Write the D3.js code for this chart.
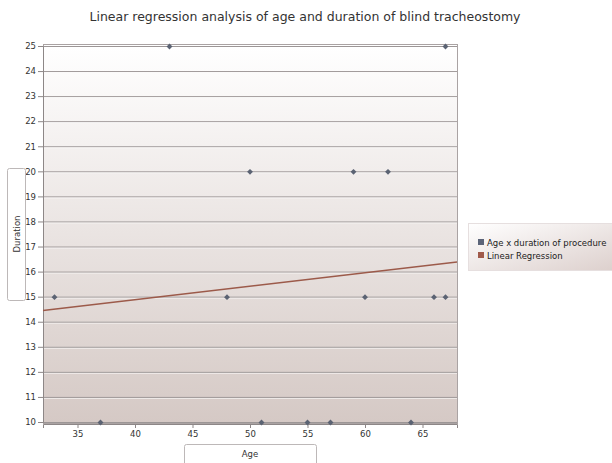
<!DOCTYPE html>
<html><head><meta charset="utf-8">
<script src="https://cdn.jsdelivr.net/npm/d3@7"></script>
<style>body{margin:0;background:#fff}svg{display:block}text{font-family:"DejaVu Sans",Verdana,sans-serif}</style>
</head><body>
<svg id="c" width="612" height="463"></svg>
<script>
const ages = [33,37,43,48,50,51,55,57,59,60,62,64,66,67,67];
const durations = [15,10,25,15,20,10,10,10,20,15,20,10,15,15,25];
const regAges = [32,68];
const regDur = [14.45,16.38];
const xTicks = [35,40,45,50,55,60,65];
const yTicks = [10,11,12,13,14,15,16,17,18,19,20,21,22,23,24,25];
const legendLabels = ["Age x duration of procedure","Linear Regression"];
const title = "Linear regression analysis of age and duration of blind tracheostomy";

const svg = d3.select("#c");
const L=43,R=457,T=46,B=422;
const x = d3.scaleLinear().domain([32,68]).range([L,R]);
const y = d3.scaleLinear().domain([10,25]).range([B,T]);

const defs = svg.append("defs");
const g1 = defs.append("linearGradient").attr("id","pg").attr("x1",0).attr("y1",0).attr("x2",0).attr("y2",1);
g1.append("stop").attr("offset","0%").attr("stop-color","#ffffff");
g1.append("stop").attr("offset","100%").attr("stop-color","#d5c9c5");
const g2 = defs.append("linearGradient").attr("id","lg").attr("x1",0).attr("y1",0).attr("x2",1).attr("y2",1);
g2.append("stop").attr("offset","0%").attr("stop-color","#ffffff");
g2.append("stop").attr("offset","100%").attr("stop-color","#dccfcc");

svg.append("text").attr("x",305).attr("y",21).attr("text-anchor","middle")
  .attr("font-size",12.5).attr("fill","#333").text(title);

svg.append("rect").attr("x",L).attr("y",T).attr("width",R-L).attr("height",B-T).attr("fill","url(#pg)");

// grid
yTicks.forEach(v=>{
  svg.append("line").attr("x1",L).attr("x2",R).attr("y1",y(v)+0.5).attr("y2",y(v)+0.5).attr("stroke","#9c9696").attr("stroke-width",1);
  svg.append("line").attr("x1",L).attr("x2",R).attr("y1",y(v)+1.5).attr("y2",y(v)+1.5).attr("stroke","#ffffff").attr("stroke-opacity",0.6).attr("stroke-width",1);
});
svg.append("rect").attr("x",L+0.5).attr("y",T-1.5).attr("width",R-L).attr("height",B-T+3).attr("fill","none").attr("stroke","#aaa3a3");

// axes
const ya = svg.append("g").attr("transform",`translate(${L},0)`).call(d3.axisLeft(y).tickValues(yTicks).tickSize(5).tickPadding(2));
ya.select(".domain").attr("stroke","#8d8787");
ya.selectAll(".tick line").attr("stroke","#8d8787");
ya.selectAll("text").attr("font-size",8.5).attr("fill","#333");
const xa = svg.append("g").attr("transform",`translate(0,${B+2})`).call(d3.axisBottom(x).tickValues(xTicks).tickSize(4).tickPadding(3));
xa.select(".domain").attr("stroke","#8d8787");
xa.selectAll(".tick line").attr("stroke","#8d8787");
xa.selectAll("text").attr("font-size",8.5).attr("fill","#333");

// regression line
svg.append("line").attr("x1",x(regAges[0])).attr("y1",y(regDur[0])).attr("x2",x(regAges[1])).attr("y2",y(regDur[1]))
  .attr("stroke","#9c5a4a").attr("stroke-width",1.5);

// points
svg.append("g").selectAll("path").data(ages.map((a,i)=>[a,durations[i]])).join("path")
  .attr("d",d3.symbol(d3.symbolDiamond2,22))
  .attr("transform",d=>`translate(${x(d[0])},${y(d[1])+0.5})`)
  .attr("fill","#5b6373");

// axis titles
svg.append("rect").attr("x",7.5).attr("y",168.5).attr("width",18).attr("height",132).attr("rx",2).attr("fill","#fff").attr("stroke","#bdb8b8");
svg.append("text").attr("transform","translate(19.5,234) rotate(-90)").attr("text-anchor","middle").attr("font-size",8.5).attr("fill","#333").text("Duration");
svg.append("rect").attr("x",184.5).attr("y",444.5).attr("width",132).attr("height",22).attr("rx",2).attr("fill","#fff").attr("stroke","#bdb8b8");
svg.append("text").attr("x",250).attr("y",457).attr("text-anchor","middle").attr("font-size",8.5).attr("fill","#333").text("Age");

// legend
svg.append("rect").attr("x",468.5).attr("y",223.5).attr("width",150).attr("height",47).attr("fill","url(#lg)").attr("stroke","#e6dfdf");
const lc = ["#5b6478","#a05a4a"];
legendLabels.forEach((t,i)=>{
  svg.append("rect").attr("x",478).attr("y",239+i*13).attr("width",6).attr("height",6).attr("fill",lc[i]);
  svg.append("text").attr("x",487).attr("y",245.5+i*13).attr("font-size",8.5).attr("fill","#222").text(t);
});
</script>
</body></html>
